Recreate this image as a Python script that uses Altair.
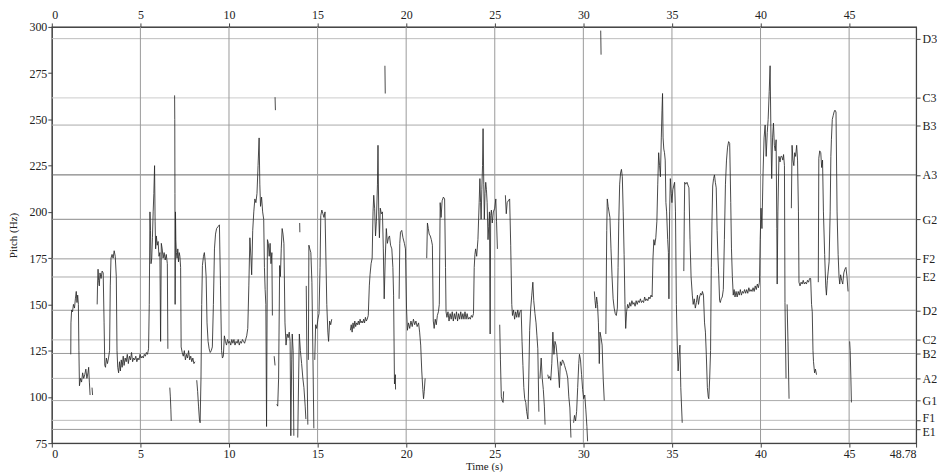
import altair as alt
import pandas as pd

# ---- pitch trace segments: (time s, pitch Hz) ----
s01 = [(1.07,123),(1.08,140),(1.12,147),(1.17,146),(1.22,150),(1.28,148),(1.33,153),(1.38,157),(1.42,151),(1.46,155),(1.5,150),(1.53,125),(1.56,106),(1.62,110),(1.68,108),(1.74,113),(1.8,110),(1.86,112),(1.92,115),(1.98,110),(2.04,113),(2.08,116),(2.12,108),(2.16,101)]
s02 = [(2.27,105),(2.3,101)]
s03 = [(2.56,150),(2.58,160),(2.61,169),(2.64,163),(2.68,160),(2.72,167),(2.78,164),(2.84,168),(2.9,167),(2.95,140),(2.99,117),(3.03,116),(3.08,121),(3.14,118),(3.2,121),(3.26,125),(3.3,160),(3.34,175),(3.4,177),(3.46,175),(3.52,179),(3.58,176),(3.64,165),(3.68,125),(3.72,116),(3.77,113),(3.82,119),(3.87,114),(3.92,120),(3.97,116),(4.03,122),(4.08,117),(4.14,121),(4.2,119),(4.26,123),(4.32,118),(4.38,122),(4.44,120),(4.5,124),(4.56,119),(4.62,121),(4.68,120),(4.74,122),(4.8,119),(4.86,121),(4.92,120),(4.98,123),(5.04,121),(5.1,122),(5.16,121),(5.22,123),(5.28,122),(5.34,124),(5.4,123),(5.46,126),(5.5,150),(5.54,200),(5.57,190),(5.6,172),(5.64,175),(5.68,186),(5.72,200),(5.76,210),(5.8,225),(5.83,195),(5.86,180),(5.9,187),(5.95,182),(6.0,184),(6.05,176),(6.1,178),(6.14,130),(6.18,183),(6.23,180),(6.28,175),(6.34,178),(6.4,174),(6.46,177),(6.52,172),(6.55,126)]
s04 = [(6.66,105),(6.69,100),(6.72,93),(6.74,87)]
s05 = [(6.93,263),(6.94,250),(6.95,210),(6.96,150),(6.98,200),(7.0,185),(7.03,178),(7.07,175),(7.11,180),(7.15,173),(7.19,178),(7.23,176),(7.27,170),(7.3,127),(7.36,124),(7.42,122),(7.48,125),(7.54,120),(7.6,123),(7.66,121),(7.72,125),(7.78,120),(7.84,122),(7.9,119),(7.96,121),(8.02,118),(8.08,119)]
s06 = [(8.18,109),(8.23,103),(8.28,95),(8.33,88),(8.37,86),(8.42,110),(8.46,150),(8.5,171),(8.56,176),(8.61,178),(8.66,173),(8.71,165),(8.76,140),(8.82,130),(8.88,126),(8.94,124),(9.0,125),(9.06,127),(9.12,150),(9.18,180),(9.24,188),(9.3,191),(9.38,192),(9.46,193),(9.52,160),(9.58,125),(9.63,121),(9.68,122),(9.74,133),(9.8,130),(9.86,128),(9.92,131),(9.98,129),(10.04,130),(10.1,128),(10.16,131),(10.22,129),(10.28,131),(10.34,128),(10.4,130),(10.46,129),(10.52,131),(10.58,128),(10.64,130),(10.7,129),(10.76,131),(10.82,130),(10.88,129),(10.94,131),(11.0,133),(11.06,137),(11.12,160),(11.18,186),(11.24,175),(11.28,166),(11.34,190),(11.4,200),(11.46,207),(11.52,205),(11.58,210),(11.64,225),(11.7,240),(11.74,215),(11.78,203),(11.84,208),(11.9,200),(11.96,196),(12.0,170),(12.04,158),(12.08,150),(12.12,84),(12.17,185),(12.22,183),(12.27,176),(12.32,183),(12.37,172),(12.42,178),(12.45,144)]
s07 = [(12.55,122),(12.6,117)]
s08 = [(12.6,262),(12.62,255)]
s09 = [(12.7,96),(12.75,95),(12.8,110),(12.86,171),(12.9,165),(12.95,180),(13.0,191),(13.05,188),(13.1,183),(13.16,140),(13.22,128),(13.28,134),(13.34,132),(13.4,135),(13.45,130),(13.49,79),(13.54,120),(13.57,134),(13.62,125),(13.66,79)]
s10 = [(13.88,78),(13.93,110),(13.97,134),(14.03,125),(14.1,118),(14.17,110),(14.23,105),(14.3,95),(14.34,88)]
s11 = [(14.36,160),(14.4,120),(14.45,85)]
s12 = [(14.48,120),(14.51,182),(14.56,180),(14.62,178),(14.68,162),(14.74,120),(14.79,83)]
s13 = [(14.84,120),(14.89,139),(14.95,137),(15.02,142),(15.08,145),(15.14,170),(15.18,198),(15.24,201),(15.3,199),(15.36,197),(15.42,200),(15.47,175),(15.52,150),(15.58,135),(15.62,130),(15.68,141),(15.74,139),(15.8,142)]
s14 = [(13.99,194),(14.0,189)]
s15 = [(16.85,136),(16.9,139),(16.95,135),(17.0,140),(17.05,137),(17.1,141),(17.15,138),(17.2,140),(17.25,139),(17.3,141),(17.35,139),(17.4,142),(17.45,140),(17.5,141),(17.55,140),(17.6,142),(17.65,140),(17.7,143),(17.75,141),(17.8,142),(17.86,144),(17.92,160),(17.96,166),(18.02,172),(18.08,175),(18.13,200),(18.17,209),(18.22,202),(18.27,187),(18.32,195),(18.38,215),(18.41,236),(18.45,200),(18.49,186),(18.54,202),(18.6,199),(18.66,200),(18.71,180),(18.76,153),(18.82,175),(18.88,191),(18.94,183),(19.0,186),(19.06,187),(19.12,182),(19.19,180),(19.25,170),(19.29,155),(19.34,107),(19.39,112),(19.4,104)]
s16 = [(19.6,153),(19.64,183),(19.68,189),(19.75,190),(19.82,186),(19.9,183),(19.96,180),(20.02,148),(20.07,136),(20.13,140),(20.2,137),(20.27,141),(20.34,138),(20.41,142),(20.48,139),(20.55,141),(20.62,138),(20.7,140),(20.76,135),(20.82,128),(20.88,114),(20.94,104),(20.98,99),(21.02,103),(21.07,110)]
s17 = [(18.8,279),(18.82,264)]
s18 = [(21.16,175),(21.2,194),(21.25,191),(21.3,188),(21.36,187),(21.42,185),(21.48,182),(21.53,141),(21.58,137),(21.64,142),(21.7,139),(21.76,144),(21.82,146),(21.87,150),(21.92,205),(21.97,197),(22.03,206),(22.1,208),(22.17,207),(22.22,170),(22.25,146),(22.3,143),(22.36,146),(22.42,141),(22.48,145),(22.54,142),(22.6,146),(22.66,141),(22.72,145),(22.78,142),(22.84,146),(22.9,141),(22.96,145),(23.02,142),(23.08,146),(23.14,142),(23.2,145),(23.26,142),(23.32,146),(23.38,142),(23.44,145),(23.5,142),(23.56,143),(23.62,142),(23.68,144),(23.74,143),(23.8,145),(23.84,170),(23.88,177),(23.92,180),(23.98,176),(24.05,185),(24.12,205),(24.16,218),(24.2,205),(24.23,196),(24.27,212),(24.31,225),(24.34,245),(24.38,215),(24.41,196),(24.45,210),(24.49,216),(24.53,212),(24.57,205),(24.62,185),(24.66,192),(24.7,200),(24.74,134),(24.77,198),(24.81,201),(24.86,194),(24.92,200),(25.0,202),(25.06,207),(25.1,195),(25.15,180)]
s19 = [(25.28,139),(25.32,120),(25.37,100),(25.42,98),(25.47,97),(25.5,103)]
s20 = [(25.6,209),(25.65,199),(25.7,205),(25.76,206),(25.84,207),(25.9,182),(25.96,150),(26.0,144),(26.06,147),(26.12,142),(26.18,146),(26.24,143),(26.3,147),(26.36,143),(26.42,146),(26.49,147),(26.54,130),(26.59,117),(26.64,105),(26.69,99),(26.75,97),(26.8,92),(26.87,88),(26.92,110),(26.97,136),(27.03,148),(27.09,155),(27.15,162),(27.2,152),(27.27,145),(27.33,140),(27.38,133),(27.43,126),(27.49,92)]
s21 = [(27.55,110),(27.62,121),(27.68,110),(27.74,104),(27.8,95),(27.84,85)]
s22 = [(27.99,112),(28.04,110),(28.1,111),(28.16,109),(28.22,118),(28.28,135),(28.34,123),(28.4,130),(28.46,128),(28.52,122),(28.58,115),(28.65,105),(28.7,119),(28.76,117),(28.82,120),(28.88,119),(28.94,117),(29.0,115),(29.06,113),(29.12,110),(29.18,100),(29.24,94),(29.3,78)]
s23 = [(29.45,86),(29.5,90),(29.56,87),(29.62,92),(29.68,105),(29.74,118),(29.78,123),(29.84,120),(29.9,112),(29.96,104),(30.02,99),(30.08,101),(30.14,93),(30.2,84),(30.24,76)]
s24 = [(30.98,298),(31.0,285)]
s25 = [(30.62,157),(30.66,152),(30.7,148),(30.75,154),(30.8,150),(30.85,140),(30.9,118),(30.94,135),(31.0,132),(31.06,128),(31.12,110),(31.18,98)]
s26 = [(31.27,134),(31.32,190),(31.35,207),(31.4,203),(31.45,200),(31.5,197),(31.56,180),(31.62,165),(31.68,153),(31.74,148),(31.8,145),(31.86,144),(31.92,148),(31.96,170),(32.0,195),(32.05,215),(32.1,221),(32.15,223),(32.2,219),(32.25,200),(32.3,177),(32.35,150),(32.39,137),(32.44,146),(32.5,150),(32.56,148),(32.62,151),(32.68,149),(32.74,152),(32.8,150),(32.86,151),(32.92,149),(32.98,152),(33.04,150),(33.1,152),(33.16,151),(33.22,153),(33.28,151),(33.34,152),(33.4,151),(33.46,154),(33.52,152),(33.58,153),(33.64,152),(33.7,154),(33.76,153),(33.82,155),(33.88,154),(33.93,175),(33.98,185),(34.03,182),(34.09,186),(34.15,195),(34.2,215),(34.25,232),(34.3,225),(34.35,219),(34.4,240),(34.44,255),(34.47,264),(34.5,240),(34.54,234),(34.58,232),(34.62,228),(34.66,205),(34.7,200),(34.76,185),(34.8,178),(34.83,153),(34.87,200),(34.91,218),(34.96,210),(35.0,205),(35.05,212),(35.1,214),(35.15,216),(35.2,200),(35.25,150),(35.3,128),(35.35,114),(35.4,122),(35.45,128),(35.5,105),(35.58,86)]
s27 = [(35.67,168),(35.7,200),(35.72,216),(35.78,215),(35.85,216),(35.92,214),(35.96,213),(36.02,185),(36.08,165),(36.15,155),(36.2,150),(36.26,153),(36.32,148),(36.38,151),(36.44,155),(36.5,150),(36.56,154),(36.62,156),(36.68,155),(36.72,157),(36.78,155),(36.84,140),(36.89,135),(36.94,123),(37.0,105),(37.05,100),(37.08,99),(37.13,110),(37.18,125),(37.22,170),(37.26,195),(37.3,214),(37.35,218),(37.4,220),(37.45,216),(37.5,213),(37.55,190),(37.6,175),(37.64,166),(37.69,152),(37.73,151),(37.78,153),(37.84,154),(37.9,158),(37.96,185),(38.02,215),(38.08,228),(38.14,235),(38.2,238),(38.26,237),(38.32,205),(38.36,180),(38.41,165),(38.46,155),(38.51,158),(38.56,154),(38.62,157),(38.68,154),(38.74,157),(38.8,155),(38.86,158),(38.92,155),(38.98,157),(39.04,156),(39.1,158),(39.16,156),(39.22,158),(39.28,156),(39.34,159),(39.4,157),(39.46,158),(39.52,157),(39.58,159),(39.64,157),(39.7,160),(39.76,158),(39.82,161),(39.88,159),(39.94,162),(39.98,185),(40.03,202),(40.08,191),(40.14,220),(40.2,240),(40.26,247),(40.32,230),(40.38,243),(40.43,250),(40.49,265),(40.54,279),(40.59,240),(40.63,218),(40.68,240),(40.73,248),(40.78,236),(40.83,233),(40.88,239),(40.92,191),(40.94,161),(40.98,200),(41.04,230),(41.1,227),(41.15,230),(41.2,230),(41.26,228),(41.3,231),(41.35,225),(41.38,151),(41.44,110)]
s28 = [(41.5,150),(41.55,130),(41.61,99)]
s29 = [(41.74,202),(41.78,236),(41.83,228),(41.88,225),(41.93,232),(41.98,230),(42.04,236),(42.09,228),(42.14,200),(42.17,162),(42.23,160),(42.29,162),(42.35,161),(42.41,163),(42.47,161),(42.53,162),(42.59,161),(42.65,163),(42.71,162),(42.77,164),(42.83,164),(42.88,150),(42.92,146),(42.96,125),(42.99,119),(43.05,113),(43.1,115),(43.16,112)]
s30 = [(43.26,162),(43.29,229),(43.34,233),(43.4,232),(43.45,224),(43.5,228),(43.55,200),(43.62,177),(43.68,160),(43.72,155),(43.77,163),(43.82,168),(43.87,173),(43.93,200),(43.97,230),(44.0,239),(44.05,250),(44.1,252),(44.15,254),(44.2,255),(44.26,254),(44.32,200),(44.38,177),(44.43,165),(44.47,161),(44.52,166),(44.58,163),(44.64,161),(44.7,167),(44.76,169),(44.82,170),(44.88,165),(44.94,157)]
s31 = [(45.03,130),(45.06,125),(45.1,110),(45.13,97)]

segments = [s01, s02, s03, s04, s05, s06, s07, s08, s09, s10, s11, s12, s13, s14, s15,
            s16, s17, s18, s19, s20, s21, s22, s23, s24, s25, s26, s27, s28, s29, s30, s31]

# ---- reference note lines ----
note_names = ["D3", "C3", "B3", "A3", "G2", "F2", "E2", "D2", "C2", "B2", "A2", "G1", "F1", "E1"]
note_freqs = [293.66, 261.63, 246.94, 220.0, 196.0, 174.61, 164.81, 146.83, 130.81, 123.47, 110.0, 98.0, 87.31, 82.41]
note_shades = ["#bdbdbd", "#cccccc", "#aaaaaa", "#666666", "#888888", "#999999", "#aaaaaa",
               "#999999", "#bbbbbb", "#999999", "#bbbbbb", "#aaaaaa", "#bbbbbb", "#999999"]

x_ticks_bottom = [0, 5, 10, 15, 20, 25, 30, 35, 40, 45, 48.78]
x_ticks_top = [0, 5, 10, 15, 20, 25, 30, 35, 40, 45]
x_grid = [5, 10, 15, 20, 25, 30, 35, 40, 45]
y_ticks = [75, 100, 125, 150, 175, 200, 225, 250, 275, 300]

rows = []
for i, seg in enumerate(segments):
    for t, hz in seg:
        rows.append({"seg": i, "t": t, "hz": hz})
trace_df = pd.DataFrame(rows)
notes_df = pd.DataFrame({"note": note_names, "freq": note_freqs, "shade": note_shades})
vgrid_df = pd.DataFrame({"t": x_grid})

FONT = "Liberation Serif"
xscale = alt.Scale(domain=[0, 48.78], nice=False, zero=False)
yscale = alt.Scale(domain=[75, 300], nice=False, zero=False)

note_expr = " : ".join(f"abs(datum.value - {f}) < 0.01 ? '{n}'" for n, f in zip(note_names, note_freqs)) + " : ''"
# nudge the two closest labels (F1, E1) apart slightly
label_nudge = {
    "condition": [
        {"test": "abs(datum.value - 87.31) < 0.01", "value": -2.5},
        {"test": "abs(datum.value - 82.41) < 0.01", "value": 2.5},
    ],
    "value": 0,
}

hrules = alt.Chart(notes_df).mark_rule(strokeWidth=1).encode(
    y=alt.Y("freq:Q", scale=yscale,
            axis=alt.Axis(orient="right", values=note_freqs, labelExpr=note_expr,
                          title=None, grid=False, tickSize=4, labelPadding=2,
                          labelOverlap=False, labelBound=False, labelOffset=label_nudge)),
    color=alt.Color("shade:N", scale=None),
)

vrules = alt.Chart(vgrid_df).mark_rule(strokeWidth=1, color="#9a9a9a").encode(
    x=alt.X("t:Q", scale=xscale,
            axis=alt.Axis(orient="top", values=x_ticks_top, labelExpr="toString(datum.value)",
                          title=None, grid=False, tickSize=4, labelPadding=1, labelOverlap=False)),
)

trace = alt.Chart(trace_df).mark_line(color="#2a2a2a", strokeWidth=0.85).encode(
    x=alt.X("t:Q", scale=xscale,
            axis=alt.Axis(orient="bottom", values=x_ticks_bottom, labelExpr="toString(datum.value)",
                          title="Time (s)", grid=False, tickSize=4, labelPadding=1, titlePadding=1,
                          labelOverlap=False)),
    y=alt.Y("hz:Q", scale=yscale,
            axis=alt.Axis(orient="left", values=y_ticks, title="Pitch (Hz)", grid=False,
                          tickSize=4, labelPadding=1, titlePadding=10, labelOverlap=False)),
    detail="seg:N",
)

chart = alt.layer(hrules, vrules, trace).resolve_scale(
    x="independent", y="independent"
).properties(
    width=868, height=418, padding=0
).configure_view(
    stroke="#444444", strokeWidth=1.2
).configure_axis(
    labelFont=FONT, titleFont=FONT, labelFontSize=12, titleFontSize=11,
    titleFontWeight="normal", labelColor="#222222", titleColor="#222222",
    tickColor="#444444", domainColor="#444444",
)

chart.save("out.html", embed_options={"renderer": "svg", "actions": False})
